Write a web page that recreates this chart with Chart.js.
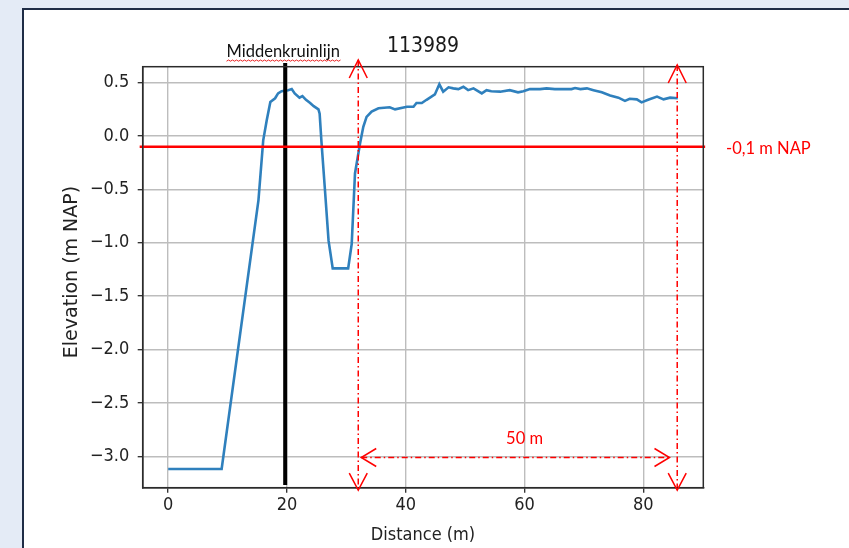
<!DOCTYPE html>
<html><head><meta charset="utf-8">
<script src="https://cdn.jsdelivr.net/npm/chart.js@4.4.1/dist/chart.umd.min.js"></script>
<style>html,body{margin:0;padding:0;background:#e4ebf6;}canvas{display:block;}</style>
</head><body>
<canvas id="c" width="849" height="548"></canvas>
<script>
// ---- data ----
const distance = [0, 9, 15.2, 16.0, 16.6, 17.2, 18.0, 18.5, 19.1, 20.2, 20.8, 21.3, 22.1, 22.6, 23.2, 23.9, 24.5, 25.3, 25.5, 25.8, 26.4, 27.0, 27.7, 30.3, 30.9, 31.45, 32.3, 32.85, 33.4, 34.25, 35.4, 37.3, 38.2, 40.2, 41.3, 41.8, 42.7, 43.5, 44.9, 45.65, 46.3, 47.2, 48.0, 48.85, 49.7, 50.5, 51.4, 52.8, 53.6, 54.4, 55.9, 57.5, 58.9, 59.8, 60.9, 62.6, 63.7, 65.1, 66.5, 67.9, 68.5, 69.4, 70.5, 71.6, 73.0, 74.4, 75.8, 76.9, 77.7, 78.9, 79.7, 80.8, 82.3, 83.4, 84.5, 85.8];
const elevation = [-3.12, -3.12, -0.60, -0.04, 0.15, 0.32, 0.354, 0.40, 0.42, 0.43, 0.44, 0.40, 0.36, 0.375, 0.34, 0.31, 0.28, 0.25, 0.21, -0.05, -0.51, -0.98, -1.24, -1.24, -1.01, -0.35, -0.07, 0.087, 0.18, 0.23, 0.26, 0.27, 0.25, 0.275, 0.275, 0.31, 0.31, 0.34, 0.39, 0.485, 0.416, 0.457, 0.447, 0.44, 0.462, 0.43, 0.447, 0.40, 0.43, 0.42, 0.416, 0.43, 0.41, 0.42, 0.44, 0.44, 0.447, 0.44, 0.44, 0.44, 0.45, 0.44, 0.447, 0.43, 0.41, 0.38, 0.36, 0.33, 0.35, 0.344, 0.316, 0.34, 0.37, 0.344, 0.36, 0.354];
const xTicks = [0, 20, 40, 60, 80];
const xTickLabels = ['0', '20', '40', '60', '80'];
const yTicks = [0.5, 0.0, -0.5, -1.0, -1.5, -2.0, -2.5, -3.0];
const yTickLabels = ['0.5', '0.0', '\u22120.5', '\u22121.0', '\u22121.5', '\u22122.0', '\u22122.5', '\u22123.0'];
const xRange = [-4.29, 90.09];
const yRange = [-3.295, 0.65];
const chartTitle = '113989';
const xTitle = 'Distance (m)';
const yTitle = 'Elevation (m NAP)';
// annotations
const crestLabel = 'Middenkruinlijn';
const crestX = [19.7, 19.7];
const crestY = [0.685, -3.27];
const napLabel = '-0,1 m NAP';
const napLineX = [-4.8, 90.4];
const napLineY = [-0.1, -0.1];
const spanLabel = '50 m';
const spanLabelX = 60;
const spanLeftX = [32.0, 32.0];
const spanLeftY = [0.713, -3.317];
const spanRightX = [85.7, 85.7];
const spanRightY = [0.666, -3.317];
const spanArrowX = [32.5, 84.4];
const spanArrowY = [-3.012, -3.012];

const pts = (xs, ys) => xs.map((v, i) => ({x: v, y: ys[i]}));
const COND = "'DejaVu Sans Condensed', 'DejaVu Sans', sans-serif";
const PPT = "Lato, 'Open Sans', sans-serif";

const annot = {
  id: 'annot',
  beforeDraw(chart) {
    const {ctx} = chart;
    ctx.save();
    ctx.fillStyle = '#e4ebf6';
    ctx.fillRect(0, 0, chart.width, chart.height);
    ctx.fillStyle = '#ffffff';
    ctx.fillRect(23, 9, chart.width, chart.height);
    ctx.strokeStyle = '#1f2d46';
    ctx.lineWidth = 2;
    ctx.beginPath();
    ctx.moveTo(23, chart.height + 2); ctx.lineTo(23, 9); ctx.lineTo(chart.width + 2, 9);
    ctx.stroke();
    ctx.restore();
  },
  afterDraw(chart) {
    const {ctx, chartArea: a, scales: {x, y}} = chart;
    ctx.save();
    // frame
    ctx.strokeStyle = '#2b2b2b'; ctx.lineWidth = 1.5; ctx.setLineDash([]);
    ctx.strokeRect(a.left, a.top, a.right - a.left, a.bottom - a.top);
    // arrowheads
    const chev = (tx, ty, x1, y1, x2, y2) => { ctx.beginPath(); ctx.moveTo(x1, y1); ctx.lineTo(tx, ty); ctx.lineTo(x2, y2); ctx.stroke(); };
    ctx.strokeStyle = '#ff0000'; ctx.lineWidth = 1.5;
    [[spanLeftX, spanLeftY], [spanRightX, spanRightY]].forEach(([sx, sy]) => {
      const px = x.getPixelForValue(sx[0]);
      const top = y.getPixelForValue(sy[0]);
      const bot = y.getPixelForValue(sy[1]);
      chev(px, top, px - 9, top + 18, px + 9, top + 18);
      chev(px, bot, px - 9, bot - 17, px + 9, bot - 17);
    });
    const pl = x.getPixelForValue(spanArrowX[0]);
    const pr = x.getPixelForValue(spanArrowX[1]);
    const py = y.getPixelForValue(spanArrowY[0]);
    chev(pl, py, pl + 15, py - 9, pl + 15, py + 9);
    chev(pr, py, pr - 15, py - 9, pr - 15, py + 9);
    // texts
    ctx.textBaseline = 'middle';
    ctx.textAlign = 'center';
    ctx.fillStyle = '#1a1a1a';
    ctx.font = '21px ' + COND;
    ctx.fillText(chartTitle, (a.left + a.right) / 2, a.top - 20);
    const cx = x.getPixelForValue(crestX[0]) - 2;
    ctx.font = '16.5px ' + PPT;
    ctx.fillStyle = '#111111';
    ctx.fillText(crestLabel, cx, a.top - 15);
    const w = ctx.measureText(crestLabel).width;
    // spell-check squiggle
    ctx.strokeStyle = 'rgba(230,0,0,0.85)'; ctx.lineWidth = 1;
    ctx.beginPath();
    let sx = cx - w / 2, k = 0;
    ctx.moveTo(sx, a.top - 5.5);
    while (sx < cx + w / 2) { sx += 2; k++; ctx.lineTo(sx, a.top - 5.5 + (k % 2 ? -1.2 : 0)); }
    ctx.stroke();
    ctx.fillStyle = '#ff0000';
    ctx.textAlign = 'left';
    ctx.fillText(napLabel, a.right + 22.7, y.getPixelForValue(napLineY[0]) + 1.5);
    ctx.textAlign = 'center';
    ctx.fillText(spanLabel, x.getPixelForValue(spanLabelX), py - 19);
    // y axis title
    ctx.fillStyle = '#222222';
    ctx.font = "19px 'DejaVu Sans', sans-serif";
    ctx.translate(72.5, 272);
    ctx.rotate(-Math.PI / 2);
    ctx.fillText(yTitle, 0, 0);
    ctx.restore();
  }
};

const redDash = [6, 3, 1.5, 3];
new Chart(document.getElementById('c'), {
  type: 'line',
  data: {
    datasets: [
      {data: pts(napLineX, napLineY), borderColor: '#ff0000', borderWidth: 2.6, clip: false},
      {data: pts(spanLeftX, spanLeftY), borderColor: '#ff0000', borderWidth: 1.5, borderDash: redDash, clip: false},
      {data: pts(spanRightX, spanRightY), borderColor: '#ff0000', borderWidth: 1.5, borderDash: redDash, clip: false},
      {data: pts(spanArrowX, spanArrowY), borderColor: '#ff0000', borderWidth: 1.5, borderDash: redDash, clip: false},
      {data: pts(crestX, crestY), borderColor: '#000000', borderWidth: 4, clip: false},
      {data: pts(distance, elevation), borderColor: '#2f80bd', borderWidth: 2.6}
    ]
  },
  options: {
    responsive: false,
    animation: false,
    devicePixelRatio: 1,
    parsing: true,
    elements: {point: {radius: 0}, line: {tension: 0, fill: false, borderCapStyle: 'butt'}},
    layout: {padding: {top: 66.7, right: 145.7, bottom: 0, left: 0}},
    plugins: {legend: {display: false}, tooltip: {enabled: false}, title: {display: false}},
    scales: {
      x: {
        type: 'linear', position: 'bottom', min: xRange[0], max: xRange[1],
        afterBuildTicks: s => { s.ticks = xTicks.map(v => ({value: v})); },
        afterFit: s => { s.height = 60.3; },
        ticks: {color: '#222222', font: {family: COND, size: 18}, padding: 2, maxRotation: 0,
          callback: v => xTickLabels[xTicks.indexOf(v)]},
        grid: {color: '#bdbdbd', lineWidth: 1.4, drawTicks: true, tickLength: 5, tickColor: '#2b2b2b', tickWidth: 1.3},
        border: {display: true, color: '#2b2b2b', width: 1.5},
        title: {display: true, text: xTitle, color: '#222222', font: {family: COND, size: 18}, padding: {top: 0, bottom: 2.2}}
      },
      y: {
        type: 'linear', position: 'left', min: yRange[0], max: yRange[1],
        afterBuildTicks: s => { s.ticks = yTicks.map(v => ({value: v})); },
        afterFit: s => { s.width = 142.7; },
        ticks: {color: '#222222', font: {family: COND, size: 18}, padding: 8.4,
          callback: v => yTickLabels[yTicks.indexOf(v)]},
        grid: {color: '#bdbdbd', lineWidth: 1.4, drawTicks: true, tickLength: 5, tickColor: '#2b2b2b', tickWidth: 1.3},
        border: {display: true, color: '#2b2b2b', width: 1.5},
        title: {display: false}
      }
    }
  },
  plugins: [annot]
});
</script>
</body></html>
